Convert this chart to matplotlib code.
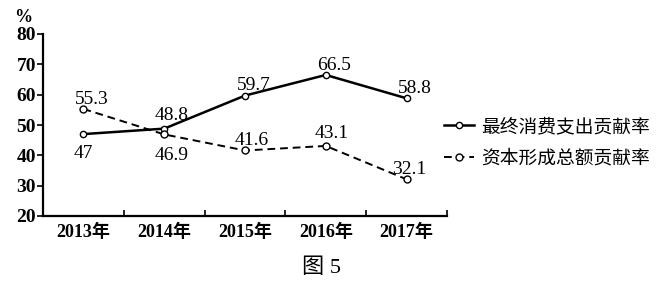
import matplotlib
matplotlib.use("Agg")
import matplotlib.pyplot as plt

plt.rcParams['font.family'] = ['Liberation Serif', 'Noto Sans CJK SC', 'DejaVu Sans']

years = ["2013年", "2014年", "2015年", "2016年", "2017年"]
consumption = [47, 48.8, 59.7, 66.5, 58.8]
capital = [55.3, 46.9, 41.6, 43.1, 32.1]
cons_label = "最终消费支出贡献率"
cap_label = "资本形成总额贡献率"
yticks = [20, 30, 40, 50, 60, 70, 80]

# label offsets (points) for each data label
cons_off = [(0, -8), (5, 3), (6, 1), (6, 1), (6, 1)]
cap_off = [(6, 1), (5, -9), (5, 1), (4, 3), (2, 1)]

fig = plt.figure(figsize=(6.57, 2.88), dpi=100)
ax = fig.add_axes([43/657, 1-216/288, (447-43)/657, (216-34)/288])

x = list(range(len(years)))
ax.plot(x, consumption, color='black', lw=1.8, marker='o', ms=4.5,
        mfc='white', mec='black', mew=1.0, label=cons_label)
ax.plot(x, capital, color='black', lw=1.4, ls=(0, (4, 2.5)), marker='o', ms=5,
        mfc='white', mec='black', mew=1.0, label=cap_label)

for xi, v, off in zip(x, consumption, cons_off):
    ax.annotate(f"{v:g}", (xi, v), xytext=off, textcoords='offset points',
                ha='center', va='bottom' if off[1] >= 0 else 'top', fontsize=14)
for xi, v, off in zip(x, capital, cap_off):
    ax.annotate(f"{v:g}", (xi, v), xytext=off, textcoords='offset points',
                ha='center', va='bottom' if off[1] >= 0 else 'top', fontsize=14)

ax.set_xlim(-0.5, len(years) - 0.5)
ax.set_ylim(20, 80)
ax.set_yticks(yticks)
ax.set_yticklabels([str(t) for t in yticks], fontsize=14, fontweight='bold')
ax.set_xticks(x)
ax.set_xticklabels(years, fontsize=13, fontweight='bold')
ax.tick_params(axis='x', length=0, pad=6)
ax.set_xticks([i + 0.5 for i in range(len(years))], minor=True)
ax.tick_params(axis='x', which='minor', direction='in', length=4, width=1.2)
ax.tick_params(axis='y', direction='out', length=4, width=1.2, pad=1)
for s in ['top', 'right']:
    ax.spines[s].set_visible(False)
for s in ['left', 'bottom']:
    ax.spines[s].set_linewidth(1.6)

fig.text(14/657, 1-17/288, "%", fontsize=13, fontweight='bold', ha='left', va='center')

fig.legend(loc='center left', bbox_to_anchor=(444/657, 1-143/288), frameon=False,
           fontsize=13.5, handlelength=1.6, handletextpad=0.4, labelspacing=0.75,
           borderaxespad=0, borderpad=0)

fig.text(322/657, 1-268/288, "图 5", fontsize=16, ha='center', va='center')

fig.savefig("out.png", dpi=100)
